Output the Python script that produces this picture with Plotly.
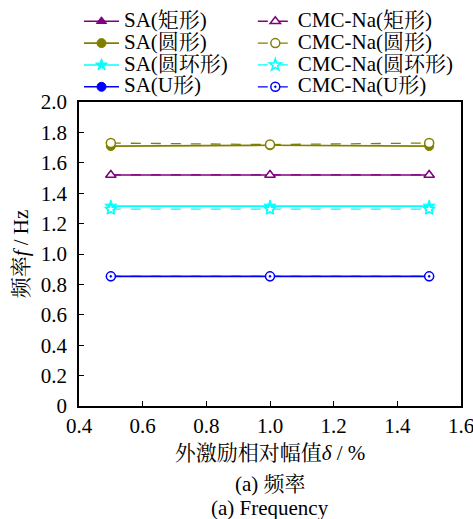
import plotly.graph_objects as go

# ---- data ----
delta = [0.5, 1.0, 1.5]
sa_rect = [1.52, 1.52, 1.52]
sa_circ = [1.71, 1.715, 1.71]
sa_ring = [1.315, 1.315, 1.315]
sa_u = [0.853, 0.853, 0.853]
cmc_rect = [1.52, 1.52, 1.52]
cmc_circ = [1.73, 1.72, 1.73]
cmc_ring = [1.295, 1.295, 1.295]
cmc_u = [0.853, 0.853, 0.853]

names_sa = ["SA(矩形)", "SA(圆形)", "SA(圆环形)", "SA(U形)"]
names_cmc = ["CMC-Na(矩形)", "CMC-Na(圆形)", "CMC-Na(圆环形)", "CMC-Na(U形)"]

x_ticks = [0.4, 0.6, 0.8, 1.0, 1.2, 1.4, 1.6]
x_ticktext = ["0.4", "0.6", "0.8", "1.0", "1.2", "1.4", "1.6"]
y_ticks = [0, 0.2, 0.4, 0.6, 0.8, 1.0, 1.2, 1.4, 1.6, 1.8, 2.0]
y_ticktext = ["0", "0.2", "0.4", "0.6", "0.8", "1.0", "1.2", "1.4", "1.6", "1.8", "2.0"]

colors = ["#800080", "#808000", "#00FFFF", "#0000FF"]
sa_symbols = ["triangle-up", "circle", "star", "circle"]
cmc_symbols = ["triangle-up", "circle", "star", "circle-dot"]

FONT = "Liberation Serif, Times New Roman, Noto Serif CJK SC, Noto Sans CJK SC, serif"

def big(t, s=21):
    return f'<span style="font-size:{s}px">{t}</span>'

fig = go.Figure()
sa_series = [sa_rect, sa_circ, sa_ring, sa_u]
cmc_series = [cmc_rect, cmc_circ, cmc_ring, cmc_u]

for i, (nm, ys) in enumerate(zip(names_sa, sa_series)):
    fig.add_trace(go.Scatter(
        x=delta, y=ys, name=big(nm), mode="lines+markers",
        line=dict(color=colors[i], width=1.6),
        marker=dict(symbol=sa_symbols[i], size=9, color=colors[i],
                    line=dict(color=colors[i], width=1)),
        legend="legend",
    ))
for i, (nm, ys) in enumerate(zip(names_cmc, cmc_series)):
    fig.add_trace(go.Scatter(
        x=delta, y=ys, name=big(nm), mode="lines+markers",
        line=dict(color=colors[i], width=1.3, dash="10px,10px"),
        marker=dict(symbol=cmc_symbols[i], size=9, color="white",
                    line=dict(color=colors[i], width=1.5)),
        legend="legend2",
    ))

legend_common = dict(
    orientation="v", yanchor="top", xanchor="left",
    itemwidth=35, font=dict(size=14.5, family=FONT),
    bgcolor="rgba(0,0,0,0)", traceorder="normal",
)

fig.update_layout(
    width=473, height=519,
    margin=dict(l=79, r=12, t=102, b=113, autoexpand=False),
    paper_bgcolor="white", plot_bgcolor="white",
    font=dict(family=FONT, size=20, color="black"),
    showlegend=True,
    legend=dict(x=0.0, y=1.318, **legend_common),
    legend2=dict(x=0.455, y=1.318, **legend_common),
    xaxis=dict(
        range=[0.4, 1.6], tickvals=x_ticks, ticktext=x_ticktext,
        ticks="inside", ticklen=5, tickwidth=1.2, tickcolor="black",
        showline=True, linecolor="black", linewidth=1.5, mirror=True,
        showgrid=False, zeroline=False, automargin=False,
        tickfont=dict(size=21), ticklabeloverflow="allow",
        title=dict(text="外激励相对幅值<i>δ</i> / %", font=dict(size=21), standoff=8),
    ),
    yaxis=dict(
        range=[0, 2.0], tickvals=y_ticks, ticktext=y_ticktext,
        ticks="inside", ticklen=5, tickwidth=1.2, tickcolor="black",
        showline=True, linecolor="black", linewidth=1.5, mirror=True,
        showgrid=False, zeroline=False, automargin=False,
        tickfont=dict(size=21), ticklabelstandoff=6, ticklabeloverflow="allow",
        title=dict(text="频率<i>f</i> / Hz", font=dict(size=21), standoff=6),
    ),
    annotations=[
        dict(text="(a) 频率", xref="paper", yref="paper", x=0.5, y=-0.255,
             showarrow=False, font=dict(size=21), xanchor="center", yanchor="middle"),
        dict(text="(a) Frequency", xref="paper", yref="paper", x=0.5, y=-0.335,
             showarrow=False, font=dict(size=21), xanchor="center", yanchor="middle"),
    ],
)

fig.write_html("out.html", config={"displayModeBar": False},
               post_script="document.body.style.margin='0';document.body.style.padding='0';")
